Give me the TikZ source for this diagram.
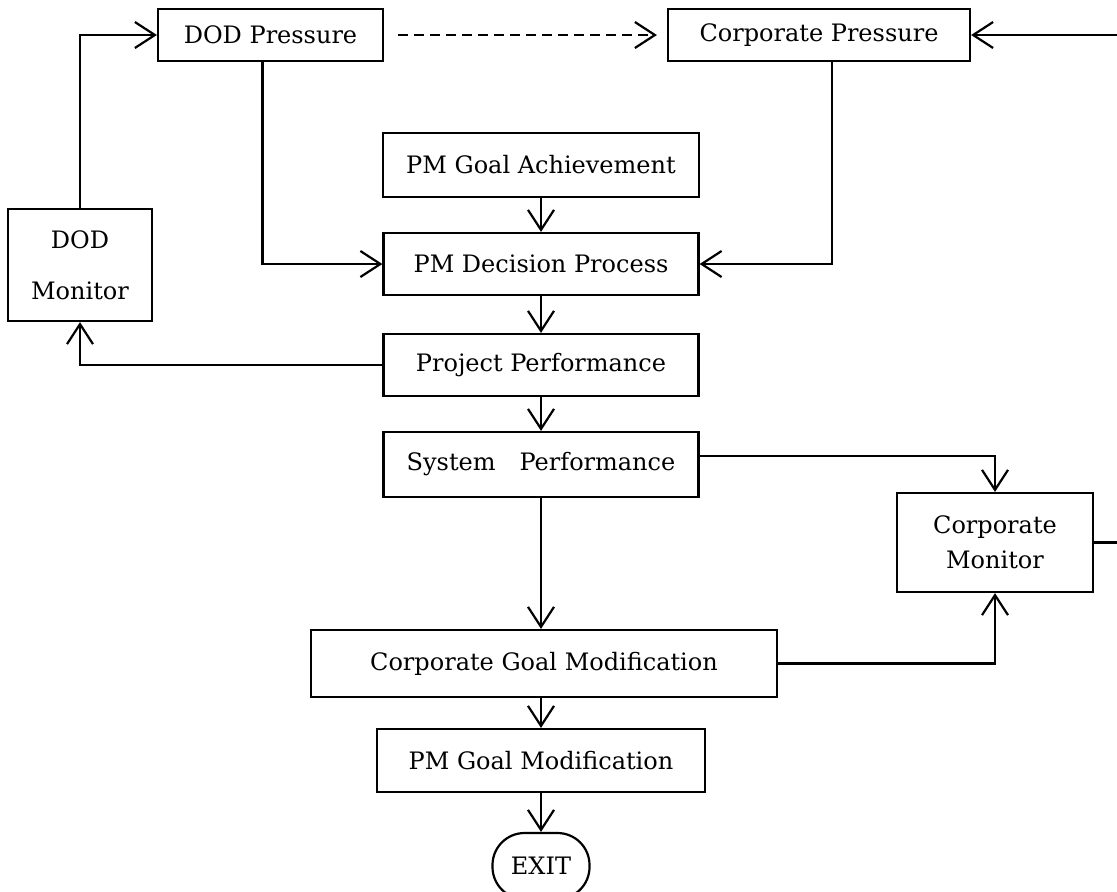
\documentclass[tikz,border=0pt]{standalone}
\usepackage{fontspec}
\setmainfont{DejaVu Serif}
\usetikzlibrary{arrows.meta}
\begin{document}
\begin{tikzpicture}[x=0.5pt, y=-0.5pt, line width=1.1pt,
    box/.style={draw, rectangle, inner sep=0pt, font=\fontsize{12}{14.5}\selectfont},
    >={Straight Barb[length=10pt,width=13pt]}]
    \useasboundingbox (0,0) rectangle (1117,891);
    \clip (0,0) rectangle (1117,891);
    % pressures
    \node[box, minimum width=112.5pt, minimum height=26pt] (dodp) at (270.5,35) {DOD Pressure};
    \node[box, minimum width=151pt, minimum height=26pt] (corpp) at (819,35) {Corporate Pressure};
    % main column
    \node[box, minimum width=158pt, minimum height=32pt] (pmga) at (541,165) {PM Goal Achievement};
    \node[box, minimum width=157.5pt, minimum height=31pt] (pmdp) at (541,264) {PM Decision Process};
    \node[box, minimum width=157.5pt, minimum height=31pt] (pp) at (541,365) {Project Performance};
    \node[box, minimum width=157.5pt, minimum height=32.5pt] (sp) at (541,464.5) {System\quad Performance};
    \node[box, minimum width=233pt, minimum height=33.5pt] (cgm) at (544,663.5) {Corporate Goal Modification};
    \node[box, minimum width=164pt, minimum height=31.5pt] (pmgm) at (541,760.5) {PM Goal Modification};
    \node[box, rounded corners=16pt, minimum width=48.5pt, minimum height=33pt] (exit) at (541,866) {EXIT};
    % monitors
    \node[box, align=center, minimum width=72pt, minimum height=56pt] (dodm) at (80,265) {DOD\\[11pt]Monitor};
    \node[box, align=center, minimum width=98pt, minimum height=49.5pt] (cm) at (995,542.5) {Corporate\\[3pt]Monitor};
    % connectors
    \draw[->, dash pattern=on 5pt off 3pt, shorten <=7pt, shorten >=5pt] (dodp.east) -- (corpp.west);
    \draw[->] ([xshift=-4pt]dodp.south) |- (pmdp.west);
    \draw[->] ([xshift=6.5pt]corpp.south) |- (pmdp.east);
    \draw[->] (pmga) -- (pmdp);
    \draw[->] (pmdp) -- (pp);
    \draw[->] (pp) -- (sp);
    \draw[->] (sp.south) -- (sp.south |- cgm.north);
    \draw[->] (pmgm.north |- cgm.south) -- (pmgm.north);
    \draw[->] (pmgm) -- (exit);
    \draw[->] (dodm.north) |- (dodp.west);
    \draw[->] (pp.west) -| (dodm.south);
    \draw[->] ([yshift=4.25pt]sp.east) -| (cm.north);
    \draw[->] (cgm.east) -| (cm.south);
    \draw[->] (cm.east) -- ++(40,0) |- (corpp.east);
\end{tikzpicture}
\end{document}
